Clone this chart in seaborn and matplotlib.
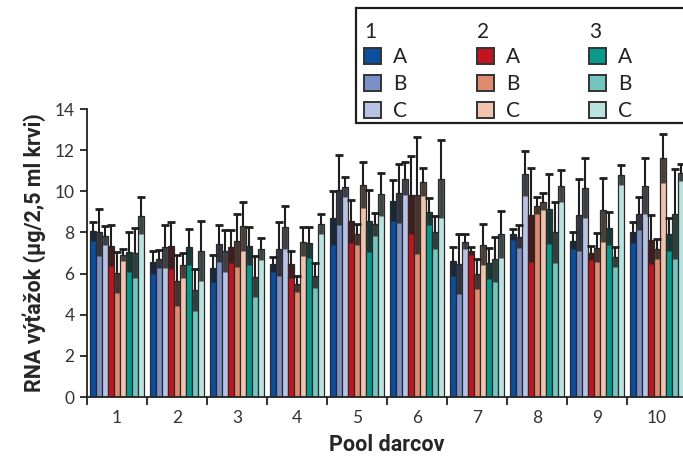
import numpy as np
import pandas as pd
import matplotlib
matplotlib.use("Agg")
import matplotlib.pyplot as plt
from matplotlib.patches import Patch, Rectangle
import seaborn as sns

# ------------------------------------------------------------------
# Data
# ------------------------------------------------------------------
pools = ["1", "2", "3", "4", "5", "6", "7", "8", "9", "10"]
series = ["1A", "1B", "1C", "2A", "2B", "2C", "3A", "3B", "3C"]
groups = ["1", "2", "3"]
subgroups = ["A", "B", "C"]

# mean RNA yield per pool, one list per series
yield_1A = [8.05, 6.55, 6.25, 6.45, 8.70, 9.55, 6.60, 7.90, 7.60, 8.00]
yield_1B = [8.00, 6.70, 7.45, 7.20, 10.05, 9.90, 6.45, 7.80, 8.85, 8.90]
yield_1C = [7.85, 7.30, 7.10, 8.25, 10.20, 10.60, 7.55, 10.85, 10.15, 10.25]
yield_2A = [7.35, 7.35, 7.30, 6.45, 8.55, 9.80, 7.10, 8.85, 7.00, 7.65]
yield_2B = [6.05, 5.65, 7.60, 5.50, 7.90, 9.80, 6.00, 9.30, 7.25, 7.20]
yield_2C = [6.90, 6.40, 8.30, 7.55, 10.30, 10.45, 7.40, 9.50, 9.10, 11.60]
yield_3A = [7.05, 7.28, 7.35, 7.50, 8.55, 9.00, 6.50, 9.15, 8.20, 7.90]
yield_3B = [7.00, 5.20, 5.85, 5.90, 8.40, 8.00, 6.70, 8.00, 6.80, 8.90]
yield_3C = [8.80, 7.10, 7.20, 8.40, 9.85, 10.60, 7.90, 10.25, 10.80, 10.90]

# error (SD) per pool, one list per series
err_1A = [0.45, 0.55, 0.65, 0.35, 1.33, 1.00, 0.70, 0.25, 0.40, 0.50]
err_1B = [1.15, 0.45, 0.90, 1.30, 1.70, 1.45, 1.45, 0.55, 1.75, 0.80]
err_1C = [0.45, 1.05, 1.00, 1.04, 0.50, 0.80, 0.35, 1.10, 1.45, 1.35]
err_2A = [1.00, 1.15, 0.80, 0.65, 1.05, 1.90, 0.20, 2.30, 0.35, 1.20]
err_2B = [1.00, 1.25, 1.30, 0.40, 0.50, 2.85, 0.73, 0.40, 0.70, 0.50]
err_2C = [0.30, 0.60, 1.20, 0.72, 1.10, 0.70, 1.00, 0.40, 1.55, 1.20]
err_3A = [0.95, 0.87, 0.93, 0.75, 1.50, 0.65, 0.75, 1.70, 0.80, 0.80]
err_3B = [1.20, 1.00, 1.00, 0.60, 0.55, 0.80, 1.10, 1.50, 0.50, 2.20]
err_3C = [0.90, 1.45, 0.55, 0.50, 1.05, 1.90, 1.15, 0.77, 0.50, 0.42]

colors = ["#0b4f9e", "#7c8fc7", "#b8c3e3",
          "#c1151f", "#e08a70", "#f1c2ae",
          "#0a9a8b", "#73c5bf", "#bae3df"]

y_ticks = [0, 2, 4, 6, 8, 10, 12, 14]

# ------------------------------------------------------------------
# Build long table
# ------------------------------------------------------------------
yields = [yield_1A, yield_1B, yield_1C, yield_2A, yield_2B, yield_2C,
          yield_3A, yield_3B, yield_3C]
errs = [err_1A, err_1B, err_1C, err_2A, err_2B, err_2C,
        err_3A, err_3B, err_3C]

rows = []
for s, vals, es in zip(series, yields, errs):
    for p, v, e in zip(pools, vals, es):
        rows.append({"pool": p, "series": s, "value": v, "err": e})
df = pd.DataFrame(rows)
err_lookup = {(r.pool, r.series): r.err for r in df.itertuples()}

sns.set_style("ticks")
plt.rcParams["font.family"] = ["Lato", "DejaVu Sans"]

fig = plt.figure(figsize=(6.83, 4.73), dpi=100)
ax = fig.add_axes([87 / 683, 76 / 473, 600 / 683, 288 / 473])

sns.barplot(data=df, x="pool", y="value", hue="series", order=pools,
            hue_order=series, palette=colors, width=0.9, errorbar=None,
            edgecolor="#2a2a2a", linewidth=0.9, saturation=1,
            legend=False, ax=ax)

# error bars: thick dark band inside the bar, thin whisker with cap above
for container, s in zip(ax.containers, series):
    xs, tops, es = [], [], []
    for bar in container:
        xc = bar.get_x() + bar.get_width() / 2
        p = pools[int(round(xc))]
        xs.append(xc)
        tops.append(bar.get_height())
        es.append(err_lookup[(p, s)])
    xs, tops, es = np.array(xs), np.array(tops), np.array(es)
    ax.vlines(xs, tops - es, tops, colors="#1e1e1e", linewidth=3.4,
              alpha=0.8, zorder=3)
    ax.vlines(xs, tops, tops + es, colors="#1e1e1e", linewidth=1.5, zorder=3)
    ax.plot(xs, tops + es, ls="none", marker="_", ms=6, mew=2,
            color="#1e1e1e", zorder=3)

ax.set_ylim(0, 14)
ax.set_xlim(-0.5, 9.5)
ax.set_yticks(y_ticks)
ax.set_xticks(range(len(pools)))
ax.set_xticklabels(pools)
ax.set_xticks(np.arange(-0.5, 10, 1), minor=True)
ax.tick_params(axis="x", which="major", length=0, pad=9, labelsize=12.5,
               labelcolor="#333333")
ax.tick_params(axis="x", which="minor", length=6, width=1.3, color="#222222")
ax.tick_params(axis="y", length=5, width=1.3, color="#222222", labelsize=12.5,
               labelcolor="#333333", pad=4)
for side in ["left", "bottom"]:
    ax.spines[side].set_linewidth(1.3)
    ax.spines[side].set_color("#222222")
sns.despine(ax=ax)

ax.set_xlabel("Pool darcov", fontsize=15.5, fontweight="bold",
              family=["Roboto", "DejaVu Sans"], labelpad=6)
ax.set_ylabel("RNA výťažok (µg/2,5 ml krvi)", fontsize=15.5, fontweight="bold",
              family=["Roboto", "DejaVu Sans"], labelpad=6)

# legend: one framed box, three titled columns
fig.patches.append(Rectangle((356 / 683, 350 / 473), 0.5, 115 / 473,
                             transform=fig.transFigure, facecolor="white",
                             edgecolor="#1e1e1e", linewidth=1.6, zorder=5))
col_x = [364, 477, 589]
for g, name in enumerate(groups):
    handles = [Patch(facecolor=colors[g * 3 + k], edgecolor="#333333",
                     linewidth=1.4) for k in range(3)]
    leg = fig.legend(handles, subgroups, loc="upper left",
                     bbox_to_anchor=(col_x[g] / 683, 1 - 47 / 473),
                     frameon=False, fontsize=15,
                     borderpad=0, borderaxespad=0,
                     handlelength=0.8, handleheight=0.8, handletextpad=0.6,
                     labelspacing=0.34)
    leg.set_zorder(6)
    for t in leg.get_texts():
        t.set_color("#222222")
    fig.text(col_x[g] / 683, 1 - 32 / 473, name, fontsize=15,
             color="#222222", ha="left", va="center", zorder=6)

fig.savefig("out.png", dpi=100)
